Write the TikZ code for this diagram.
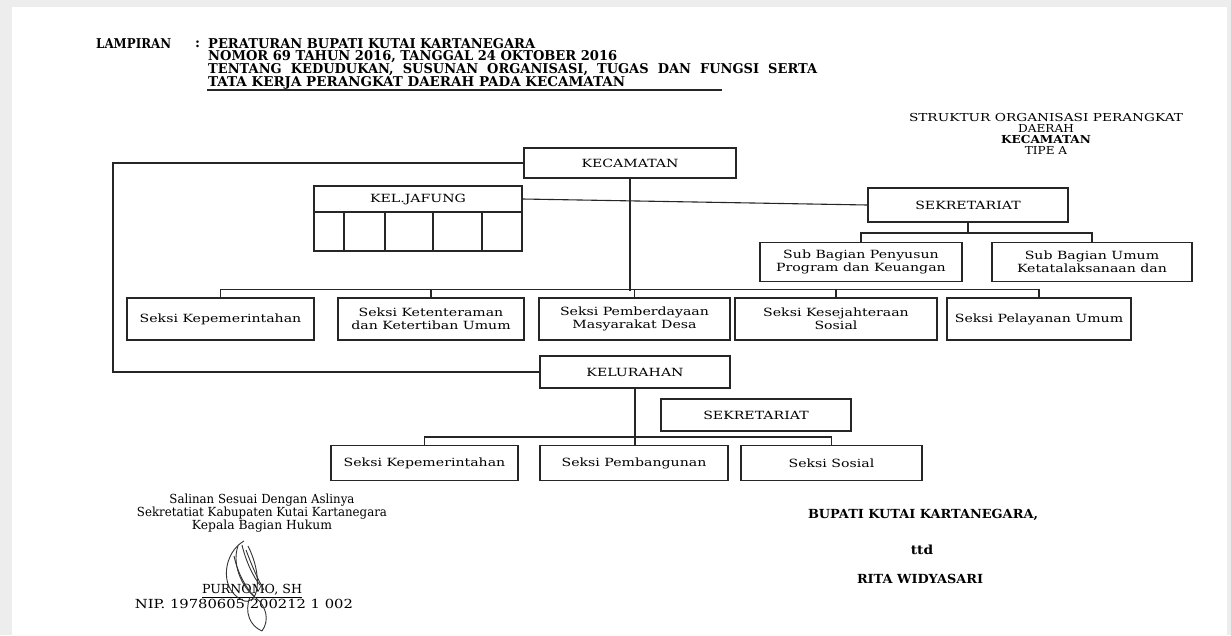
\documentclass[tikz,border=0pt]{standalone}
\usepackage{fontspec}
\setmainfont{DejaVu Serif}
\newfontfamily\boxfont[FakeStretch=1.25]{DejaVu Serif}
\newfontfamily\widefont[FakeStretch=1.1]{DejaVu Serif}
\usetikzlibrary{positioning}
\newcommand\wfit[2]{\resizebox{#1}{\height}{#2}}
\begin{document}
\begin{tikzpicture}[x=1pt,y=-1pt,
  ln/.style={draw=black!85,line width=1.1pt},
  orgbox/.style={ln,fill=white,minimum width=#1,inner sep=1pt,align=center,font=\boxfont\fontsize{11.3}{13.5}\selectfont},
  hd/.style={anchor=west,inner sep=0pt,font=\fontsize{13.5}{13}\bfseries\selectfont},
  plain/.style={inner sep=0pt,align=center,font=\fontsize{12.5}{13}\selectfont},
  rt/.style={inner sep=0pt,align=center,font=\widefont\fontsize{11}{11}\selectfont},
  sign/.style={inner sep=0pt,align=center,font=\widefont\fontsize{12.5}{13}\bfseries\selectfont},
  sig/.style={draw=black!80,line width=0.9pt}]
\useasboundingbox (0,0) rectangle (1231,635);
\fill[black!7] (0,0) rectangle (1231,635);
\fill[white] (12,7) rectangle (1227,640);
% header
\node[hd] (lamp) at (96,44) {\wfit{75pt}{LAMPIRAN}};
\node[hd] (colon) at (195,44) {:};
\node[hd] (h1) at (208,44) {\wfit{327pt}{PERATURAN BUPATI KUTAI KARTANEGARA}};
\node[hd] (h2) at (208,57) {\wfit{409pt}{NOMOR 69 TAHUN 2016, TANGGAL 24 OKTOBER 2016}};
\node[hd] (h3) at (208,70) {\wfit{609pt}{TENTANG \ KEDUDUKAN, \ SUSUNAN \ ORGANISASI, \ TUGAS \ DAN \ FUNGSI \ SERTA}};
\node[hd] (h4) at (208,83) {\wfit{417pt}{TATA KERJA PERANGKAT DAERAH PADA KECAMATAN}};
\coordinate (ulA) at (207,90);
\coordinate (ulB) at (722,90);
\draw[black!85,line width=1.3pt] (ulA) -- (ulB);
% right title
\node[rt] (t1) at (1046,117) {\wfit{274pt}{STRUKTUR ORGANISASI PERANGKAT}};
\node[rt] (t2) at (1046,128) {DAERAH};
\node[rt,font=\widefont\fontsize{11}{11}\bfseries\selectfont] (t3) at (1046,139) {KECAMATAN};
\node[rt] (t4) at (1046,150) {TIPE A};
% org boxes
\node[orgbox=212pt,minimum height=30pt] (kec) at (630,163) {KECAMATAN};
\node[orgbox=208pt,minimum height=26pt] (kj) at (418,199) {KEL.JAFUNG};
\draw[ln] (314,212) rectangle (522,251);
\foreach \xx in {344,385,433,482} \draw[ln] (\xx,212) -- (\xx,251);
\node[orgbox=200pt,minimum height=34pt] (sek) at (968,205) {SEKRETARIAT};
\node[orgbox=202pt,minimum height=39pt] (sb1) at (861,262) {Sub Bagian Penyusun\\Program dan Keuangan};
\node[orgbox=200pt,minimum height=39pt] (sb2) at (1092,262) {Sub Bagian Umum\\Ketatalaksanaan dan};
\node[orgbox=187pt,minimum height=42pt] (s1) at (220.5,319) {Seksi Kepemerintahan};
\node[orgbox=186pt,minimum height=42pt] (s2) at (431,319) {Seksi Ketenteraman\\dan Ketertiban Umum};
\node[orgbox=191pt,minimum height=42pt] (s3) at (634.5,319) {Seksi Pemberdayaan\\Masyarakat Desa};
\node[orgbox=202pt,minimum height=42pt] (s4) at (836,319) {Seksi Kesejahteraan\\Sosial};
\node[orgbox=184pt,minimum height=42pt] (s5) at (1039,319) {Seksi Pelayanan Umum};
\node[orgbox=190pt,minimum height=32pt] (kel) at (635,372) {KELURAHAN};
\node[orgbox=190pt,minimum height=32pt] (sek2) at (756,415) {SEKRETARIAT};
\node[orgbox=187pt,minimum height=35pt] (l1) at (424.5,463) {Seksi Kepemerintahan};
\node[orgbox=188pt,minimum height=35pt] (l2) at (634,463) {Seksi Pembangunan};
\node[orgbox=181pt,minimum height=35pt] (l3) at (831.5,463) {Seksi Sosial};
% connectors
\coordinate (cL) at (113,163);
\draw[ln] (kec.west) -- (cL) |- (kel.west);
\coordinate (busC) at (630,291);
\draw[ln] (kec.south) -- (busC);
\draw[ln] (s1.north) -- ++(0,-8) -| (s5.north);
\foreach \n in {s2,s3,s4} \draw[ln] (\n.north) -- ++(0,-8);
\draw[ln] (kj.east) -- (sek.west);
\draw[ln] (sek.south) -- ++(0,10.5);
\draw[ln] (sb1.north) -- ++(0,-9) -| (sb2.north);
\draw[ln] (kel.south) -- (kel.south |- l2.north);
\draw[ln] (l1.north) -- ++(0,-8) -| (l3.north);
% bottom left
\node[plain] (b1) at (262,500) {\wfit{185pt}{Salinan Sesuai Dengan Aslinya}};
\node[plain] (b2) at (262,513) {\wfit{250pt}{Sekretatiat Kabupaten Kutai Kartanegara}};
\node[plain] (b3) at (262,526) {\wfit{140pt}{Kepala Bagian Hukum}};
\node[plain] (b4) at (252,591) {\underline{\wfit{100pt}{PURNOMO, SH}}};
\node[plain] (b5) at (244,604) {\wfit{218pt}{NIP. 19780605 200212 1 002}};
% signature
\draw[sig] (244,541) .. controls (224,552) and (218,588) .. (242,600) .. controls (258,608) and (264,578) .. (248,546);
\draw[sig] (238,546) .. controls (232,562) and (240,586) .. (256,598) .. controls (266,606) and (270,620) .. (262,631);
\draw[sig] (246,550) .. controls (252,566) and (258,580) .. (264,590);
\draw[sig] (234,556) .. controls (238,574) and (246,588) .. (254,596);
\draw[sig] (242,545) .. controls (246,562) and (254,578) .. (260,585);
\draw[sig] (262,631) .. controls (250,626) and (244,612) .. (250,597);
% bottom right
\node[sign] (r1) at (923,515) {\wfit{230pt}{BUPATI KUTAI KARTANEGARA,}};
\node[sign] (r2) at (922,550) {ttd};
\node[sign] (r3) at (920,579) {\wfit{126pt}{RITA WIDYASARI}};
\end{tikzpicture}
\end{document}
